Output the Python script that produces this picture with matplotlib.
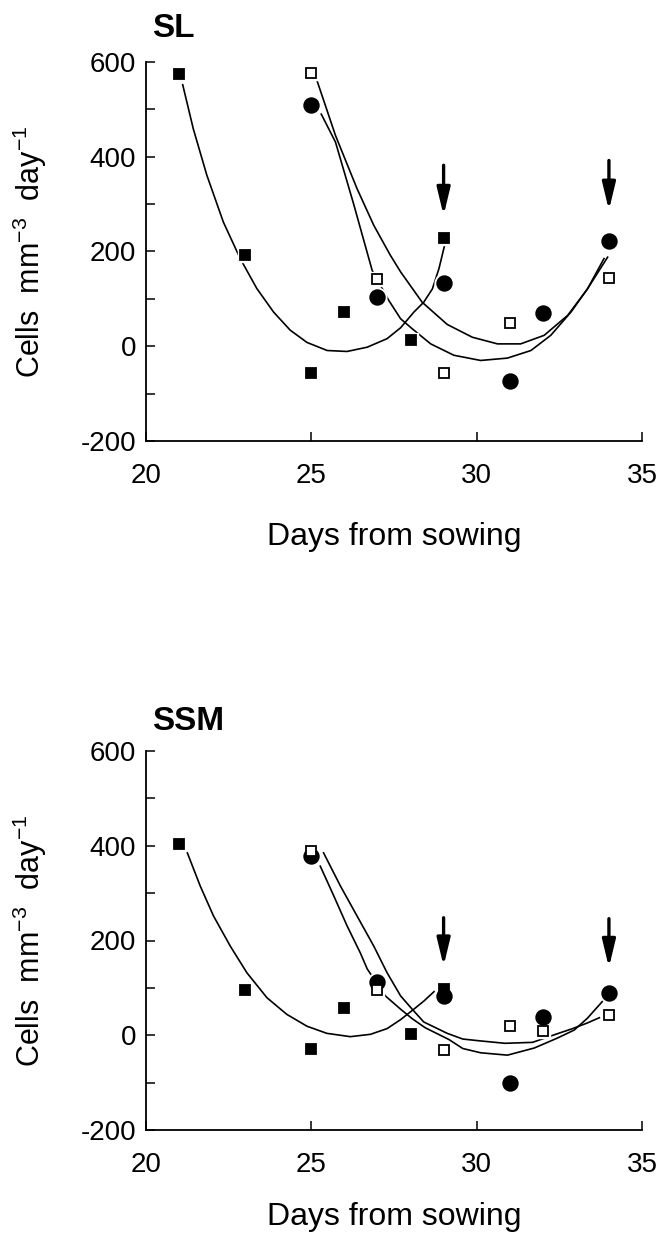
import matplotlib.pyplot as plt
from matplotlib.ticker import MultipleLocator

plt.rcParams['font.family'] = ['Liberation Sans', 'DejaVu Sans']
plt.rcParams['mathtext.default'] = 'regular'
plt.rcParams['axes.unicode_minus'] = False

# ---- SL panel: measured points ----
sl_fsq_x = [21, 23, 25, 26, 28, 29]
sl_fsq_y = [574, 193, -57, 73, 13, 228]
sl_dot_x = [25, 27, 29, 31, 32, 34]
sl_dot_y = [510, 103, 134, -74, 70, 223]
sl_osq_x = [25, 27, 29, 31, 34]
sl_osq_y = [577, 141, -57, 49, 144]

# SL fitted curves
sl_fit_fsq_x = [21.11, 21.43, 21.84, 22.34, 22.85, 23.35, 23.86, 24.36, 24.87, 25.48,
                26.08, 26.69, 27.29, 27.70, 28.10, 28.40, 28.66, 28.86, 29.03]
sl_fit_fsq_y = [552, 459, 361, 262, 185, 122, 72, 34, 8, -9,
                -11, -2, 16, 39, 72, 93, 121, 164, 213]
sl_fit_dot_x = [25.30, 25.73, 26.28, 26.84, 27.34, 27.70, 28.05, 28.61, 29.31, 30.12,
                30.93, 31.64, 32.24, 32.85, 33.35, 33.85]
sl_fit_dot_y = [490, 431, 300, 160, 97, 58, 37, 5, -19, -30,
                -25, -9, 23, 72, 121, 185]
sl_fit_osq_x = [25.17, 25.73, 26.38, 26.89, 27.39, 27.70, 28.35, 29.11, 29.87, 30.63,
                31.33, 32.04, 32.75, 33.35, 33.96]
sl_fit_osq_y = [561, 445, 333, 255, 192, 157, 93, 46, 19, 5,
                5, 23, 65, 121, 188]

# ---- SSM panel: measured points ----
ssm_fsq_x = [21, 23, 25, 26, 28, 29]
ssm_fsq_y = [403, 95, -28, 58, 3, 97]
ssm_dot_x = [25, 27, 29, 31, 32, 34]
ssm_dot_y = [378, 112, 82, -100, 38, 90]
ssm_osq_x = [25, 27, 29, 31, 32, 34]
ssm_osq_y = [388, 95, -32, 19, 8, 43]

ssm_fit_fsq_x = [21.25, 21.64, 22.04, 22.55, 23.05, 23.66, 24.26, 24.87, 25.47, 26.18,
                 26.79, 27.29, 27.70, 28.10, 28.40, 28.71]
ssm_fit_fsq_y = [385, 315, 252, 188, 132, 79, 44, 19, 4, -3,
                 2, 14, 33, 55, 72, 92]
ssm_fit_dot_x = [25.27, 25.68, 26.08, 26.48, 26.69, 27.24, 27.70, 28.05, 28.44, 29.16,
                 29.58, 30.12, 30.93, 31.74, 32.44, 32.95, 33.35, 33.81]
ssm_fit_dot_y = [357, 294, 231, 174, 140, 83, 55, 35, 16, -9,
                 -28, -37, -42, -27, -6, 11, 36, 72]
ssm_fit_osq_x = [25.37, 25.88, 26.38, 26.89, 27.29, 27.70, 28.05, 28.40, 29.11, 29.58,
                 30.12, 30.86, 31.69, 32.39, 32.90, 33.35, 33.71]
ssm_fit_osq_y = [385, 315, 252, 188, 132, 83, 55, 28, 4, -8,
                 -12, -17, -15, 2, 14, 26, 37]

# harvest arrows
arrow_x = [29, 34]
sl_arrow_top = [382, 392]
sl_arrow_tip = [276, 287]
ssm_arrow_top = [248, 246]
ssm_arrow_tip = [146, 143]

ylab = r"Cells  mm$^{-3}$  day$^{-1}$"


def points(ax, x, y, marker, ms, face):
    # white halo first so the curves look broken around the symbols
    ax.plot(x, y, ls='none', marker=marker, ms=ms + 3, mfc='white', mec='white', zorder=3)
    ax.plot(x, y, ls='none', marker=marker, ms=ms, mfc=face, mec='black', mew=1.3, zorder=4)


def style(ax, title, title_y, xlab_y):
    ax.set_xlim(20, 35)
    ax.set_ylim(-200, 600)
    ax.spines[['top', 'right']].set_visible(False)
    ax.spines[['left', 'bottom']].set_linewidth(1.3)
    ax.set_xticks([20, 25, 30, 35])
    ax.set_yticks([-200, 0, 200, 400, 600])
    ax.yaxis.set_minor_locator(MultipleLocator(100))
    ax.tick_params(which='both', direction='in', length=6.5, width=1.1, labelsize=20)
    ax.tick_params(axis='x', pad=16)
    ax.tick_params(axis='y', pad=7)
    ax.set_xlabel("Days from sowing", fontsize=23)
    ax.set_ylabel(ylab, fontsize=22)
    ax.xaxis.set_label_coords(0.5, xlab_y)
    ax.yaxis.set_label_coords(-0.195, 0.5)
    ax.text(0.012, title_y, title, transform=ax.transAxes, fontsize=24,
            fontweight='bold', ha='left', va='center')


def panel(ax, fsq, dot, osq, fits, arr_top, arr_tip):
    for fx, fy in fits:
        ax.plot(fx, fy, color='black', lw=1.2, zorder=2)
    points(ax, *fsq, 's', 7, 'black')
    points(ax, *dot, 'o', 10.5, 'black')
    points(ax, *osq, 's', 6.5, 'white')
    for x, y0, y1 in zip(arrow_x, arr_top, arr_tip):
        ax.annotate('', xy=(x, y1), xytext=(x, y0),
                    arrowprops=dict(arrowstyle='-|>,head_length=0.75,head_width=0.18',
                                    lw=2.4, color='black', shrinkA=0, shrinkB=0,
                                    mutation_scale=22), zorder=5)


fig = plt.figure(figsize=(6.61, 12.34), dpi=100)
ax1 = fig.add_axes([146/661, 1 - 441/1234, 496/661, 379/1234])
ax2 = fig.add_axes([146/661, 1 - 1130/1234, 496/661, 379/1234])

panel(ax1, (sl_fsq_x, sl_fsq_y), (sl_dot_x, sl_dot_y), (sl_osq_x, sl_osq_y),
      [(sl_fit_fsq_x, sl_fit_fsq_y), (sl_fit_dot_x, sl_fit_dot_y), (sl_fit_osq_x, sl_fit_osq_y)],
      sl_arrow_top, sl_arrow_tip)
style(ax1, "SL", 1.088, -0.215)

panel(ax2, (ssm_fsq_x, ssm_fsq_y), (ssm_dot_x, ssm_dot_y), (ssm_osq_x, ssm_osq_y),
      [(ssm_fit_fsq_x, ssm_fit_fsq_y), (ssm_fit_dot_x, ssm_fit_dot_y), (ssm_fit_osq_x, ssm_fit_osq_y)],
      ssm_arrow_top, ssm_arrow_tip)
style(ax2, "SSM", 1.077, -0.19)

fig.savefig("out.png", dpi=100)
